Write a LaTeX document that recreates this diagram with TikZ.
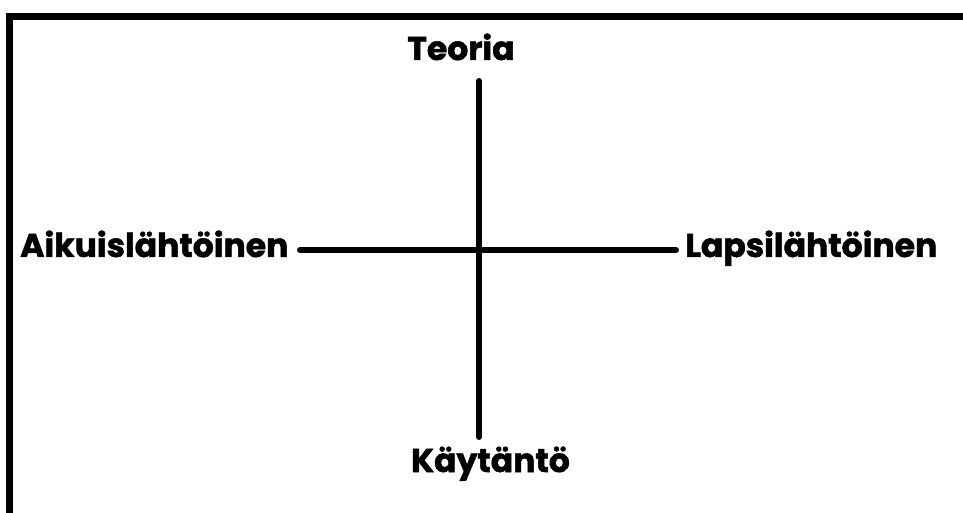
\documentclass[tikz,border=0pt]{standalone}
\usepackage{fontspec}
\setmainfont{Poppins}[BoldFeatures={FakeBold=1.5}]
\begin{document}
\begin{tikzpicture}[x=1pt,y=1pt,
  lbl/.style={inner sep=0pt,font=\fontsize{33}{33}\selectfont\bfseries},
  axis/.style={line width=6pt,line cap=round}]
\useasboundingbox (0,0) rectangle (963,512);
\fill[white] (0,0) rectangle (963,512);
\clip (0,0) rectangle (963,512);
\draw[line width=7pt] (9.5,-20) -- (9.5,495.5) -- (990,495.5);
\coordinate (top) at (479,431);
\coordinate (bot) at (479,75);
\coordinate (lft) at (300,262);
\coordinate (rgt) at (676,262);
\draw[axis] (top) -- (bot);
\draw[axis] (lft) -- (rgt);
\node[lbl,anchor=base] (teoria) at (461,452) {Teoria};
\node[lbl,anchor=base] (kaytanto) at (490.5,40) {Käytäntö};
\node[lbl,anchor=base west] (aikuis) at (20,255) {Aikuislähtöinen};
\node[lbl,anchor=base west] (lapsi) at (685,255) {Lapsilähtöinen};
\end{tikzpicture}
\end{document}
